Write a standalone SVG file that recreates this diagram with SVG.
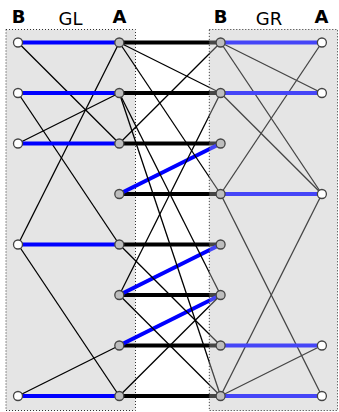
<svg xmlns="http://www.w3.org/2000/svg" width="339" height="412" viewBox="0 0 339 412">
<style>
.box{fill:#e5e5e5;stroke:none}
.border{fill:none;stroke:#333;stroke-width:1;stroke-dasharray:1 2}
.thin{stroke:#000;stroke-width:1.3;fill:none}
.thick{stroke:#000;stroke-width:4;fill:none}
.blue{stroke:#0000ff;stroke-width:4;fill:none}
.nw{fill:#fff;stroke:#444;stroke-width:1.3}
.ng{fill:#bdbdbd;stroke:#444;stroke-width:1.3}
.lbl{font-family:"DejaVu Sans",sans-serif;font-size:18px;text-anchor:middle;fill:#000}
.b{font-weight:bold}
</style>
<g id="boxes">
<rect class="box" x="6" y="29.5" width="129.5" height="381"/>
<rect class="border" x="6" y="29.5" width="129.5" height="381"/>
<rect class="box" x="209.3" y="29.5" width="128.2" height="381"/>
</g>
<g id="connectors">
<!-- GL thin -->
<line class="thin" x1="18" y1="42.5" x2="119.3" y2="143.5"/>
<line class="thin" x1="18" y1="93" x2="119.3" y2="244.5"/>
<line class="thin" x1="18" y1="143.5" x2="119.3" y2="93"/>
<line class="thin" x1="18" y1="244.5" x2="119.3" y2="42.5"/>
<line class="thin" x1="18" y1="244.5" x2="119.3" y2="396"/>
<line class="thin" x1="18" y1="396" x2="119.3" y2="345.5"/>
<!-- GL blue -->
<line class="blue" x1="18" y1="42.5" x2="119.3" y2="42.5"/>
<line class="blue" x1="18" y1="93" x2="119.3" y2="93"/>
<line class="blue" x1="18" y1="143.5" x2="119.3" y2="143.5"/>
<line class="blue" x1="18" y1="244.5" x2="119.3" y2="244.5"/>
<line class="blue" x1="18" y1="396" x2="119.3" y2="396"/>
<!-- middle thick -->
<line class="thick" x1="119.3" y1="42.5" x2="220.6" y2="42.5"/>
<line class="thick" x1="119.3" y1="93" x2="220.6" y2="93"/>
<line class="thick" x1="119.3" y1="143.5" x2="220.6" y2="143.5"/>
<line class="thick" x1="119.3" y1="194" x2="220.6" y2="194"/>
<line class="thick" x1="119.3" y1="244.5" x2="220.6" y2="244.5"/>
<line class="thick" x1="119.3" y1="295" x2="220.6" y2="295"/>
<line class="thick" x1="119.3" y1="345.5" x2="220.6" y2="345.5"/>
<line class="thick" x1="119.3" y1="396" x2="220.6" y2="396"/>
<!-- middle blue -->
<line class="blue" x1="119.3" y1="194" x2="220.6" y2="143.5"/>
<line class="blue" x1="119.3" y1="295" x2="220.6" y2="244.5"/>
<line class="blue" x1="119.3" y1="345.5" x2="220.6" y2="295"/>
<!-- middle thin -->
<line class="thin" x1="119.3" y1="42.5" x2="220.6" y2="93"/>
<line class="thin" x1="119.3" y1="42.5" x2="220.6" y2="194"/>
<line class="thin" x1="220.6" y1="42.5" x2="119.3" y2="143.5"/>
<line class="thin" x1="119.3" y1="93" x2="220.6" y2="295"/>
<line class="thin" x1="119.3" y1="93" x2="220.6" y2="396"/>
<line class="thin" x1="220.6" y1="93" x2="119.3" y2="295"/>
<line class="thin" x1="119.3" y1="244.5" x2="220.6" y2="345.5"/>
<line class="thin" x1="119.3" y1="295" x2="220.6" y2="396"/>
<line class="thin" x1="119.3" y1="396" x2="220.6" y2="295"/>
<!-- GR thin -->
<line class="thin" x1="220.6" y1="42.5" x2="321.9" y2="93"/>
<line class="thin" x1="220.6" y1="42.5" x2="321.9" y2="194"/>
<line class="thin" x1="220.6" y1="93" x2="321.9" y2="194"/>
<line class="thin" x1="321.9" y1="42.5" x2="220.6" y2="194"/>
<line class="thin" x1="220.6" y1="194" x2="321.9" y2="396"/>
<line class="thin" x1="321.9" y1="194" x2="220.6" y2="396"/>
<line class="thin" x1="220.6" y1="396" x2="321.9" y2="345.5"/>
<!-- GR blue -->
<line class="blue" x1="220.6" y1="42.5" x2="321.9" y2="42.5"/>
<line class="blue" x1="220.6" y1="93" x2="321.9" y2="93"/>
<line class="blue" x1="220.6" y1="194" x2="321.9" y2="194"/>
<line class="blue" x1="220.6" y1="345.5" x2="321.9" y2="345.5"/>
<line class="blue" x1="220.6" y1="396" x2="321.9" y2="396"/>
</g>
<g id="overlay">
<rect x="209.3" y="29.5" width="128.2" height="381" fill="#e5e5e5" fill-opacity="0.3"/>
<rect class="border" x="209.3" y="29.5" width="128.2" height="381"/>
</g>
<g id="GL-B">
<circle class="nw" cx="18" cy="42.5" r="4.5"/>
<circle class="nw" cx="18" cy="93" r="4.5"/>
<circle class="nw" cx="18" cy="143.5" r="4.5"/>
<circle class="nw" cx="18" cy="244.5" r="4.5"/>
<circle class="nw" cx="18" cy="396" r="4.5"/>
</g>
<g id="GL-A">
<circle class="ng" cx="119.3" cy="42.5" r="4.5"/>
<circle class="ng" cx="119.3" cy="93" r="4.5"/>
<circle class="ng" cx="119.3" cy="143.5" r="4.5"/>
<circle class="ng" cx="119.3" cy="194" r="4.5"/>
<circle class="ng" cx="119.3" cy="244.5" r="4.5"/>
<circle class="ng" cx="119.3" cy="295" r="4.5"/>
<circle class="ng" cx="119.3" cy="345.5" r="4.5"/>
<circle class="ng" cx="119.3" cy="396" r="4.5"/>
</g>
<g id="GR-B">
<circle class="ng" cx="220.6" cy="42.5" r="4.5"/>
<circle class="ng" cx="220.6" cy="93" r="4.5"/>
<circle class="ng" cx="220.6" cy="143.5" r="4.5"/>
<circle class="ng" cx="220.6" cy="194" r="4.5"/>
<circle class="ng" cx="220.6" cy="244.5" r="4.5"/>
<circle class="ng" cx="220.6" cy="295" r="4.5"/>
<circle class="ng" cx="220.6" cy="345.5" r="4.5"/>
<circle class="ng" cx="220.6" cy="396" r="4.5"/>
</g>
<g id="GR-A">
<circle class="nw" cx="321.9" cy="42.5" r="4.5"/>
<circle class="nw" cx="321.9" cy="93" r="4.5"/>
<circle class="nw" cx="321.9" cy="194" r="4.5"/>
<circle class="nw" cx="321.9" cy="345.5" r="4.5"/>
<circle class="nw" cx="321.9" cy="396" r="4.5"/>
</g>
<g id="labels">
<text class="lbl b" x="18.5" y="23">B</text>
<text class="lbl" x="70.5" y="25">GL</text>
<text class="lbl b" x="119.5" y="23">A</text>
<text class="lbl b" x="220.5" y="23">B</text>
<text class="lbl" x="269" y="25">GR</text>
<text class="lbl b" x="321.5" y="23">A</text>
</g>
</svg>
